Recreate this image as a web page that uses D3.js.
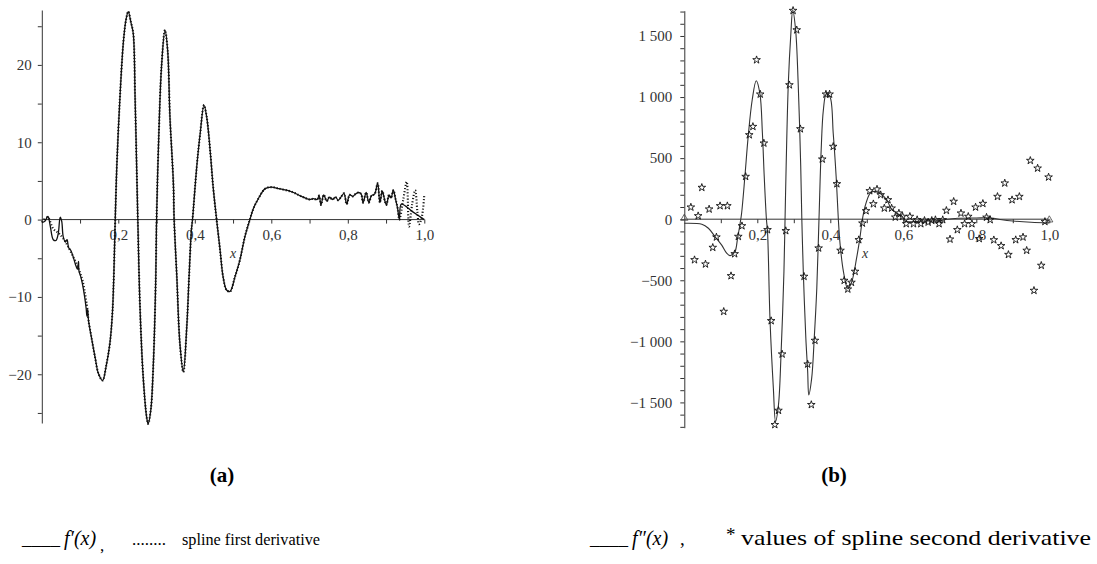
<!DOCTYPE html>
<html>
<head>
<meta charset="utf-8">
<script src="https://cdn.jsdelivr.net/npm/d3@7"></script>
<style>
html,body{margin:0;padding:0;background:#fff;}
svg{display:block;}
svg text{font-family:"Liberation Serif","Times New Roman",Times,"DejaVu Serif",serif !important;}
</style>
</head>
<body>
<svg id="chart" width="1097" height="564"></svg>
<script>
// ---------------- DATA: panel (a) ----------------
// f'(x), solid
const fpX = [0,0.008,0.016,0.022,0.03,0.037,0.043,0.048,0.052,0.056,0.062,0.066,0.07,0.076,0.082,0.088,0.093,0.096,0.097,0.102,0.107,0.112,0.116,0.118,0.12,0.122,0.13,0.14,0.148,0.159,0.168,0.178,0.185,0.192,0.196,0.204,0.213,0.22,0.226,0.233,0.239,0.244,0.248,0.251,0.257,0.265,0.274,0.278,0.285,0.292,0.298,0.3,0.306,0.313,0.322,0.329,0.335,0.344,0.346,0.353,0.361,0.37,0.379,0.385,0.391,0.394,0.405,0.414,0.424,0.431,0.44,0.448,0.457,0.466,0.474,0.483,0.492,0.505,0.518,0.531,0.544,0.553,0.566,0.584,0.6,0.62,0.653,0.679,0.7,0.71,0.72,0.725,0.73,0.737,0.745,0.752,0.76,0.768,0.775,0.782,0.79,0.797,0.805,0.813,0.82,0.828,0.835,0.84,0.848,0.855,0.862,0.87,0.878,0.884,0.89,0.897,0.901,0.908,0.913,0.919,0.925,0.93,0.935,0.94,0.97,1.0];
const fpY = [-0.4,-0.2,0.4,-0.8,-2.6,-2.7,-1.8,0.3,-0.2,-2.2,-2.9,-2.6,-3.6,-4.0,-4.8,-5.8,-6.4,-5.4,-6.6,-7.4,-8.5,-10.0,-11.5,-12.5,-11.6,-13.0,-15.3,-18.0,-19.9,-20.8,-19.0,-16.0,-11.7,0,6.8,15.5,22.8,25.8,26.9,25.5,24.1,15.5,6.8,0,-11.7,-20.3,-25.5,-26.4,-24.6,-18.2,-7.4,0,11.1,19.8,24.5,21.9,13.3,4.7,0,-7.4,-16,-19.7,-13.9,-7.4,-1.4,0,6.8,11.1,14.8,13.3,9,4.2,0,-3.9,-7.4,-9.1,-9.3,-7.4,-5.2,-2.2,0,1.4,2.7,4.0,4.2,4.0,3.6,3.0,2.6,2.7,2.6,3.1,1.9,3.2,2.4,2.9,2.6,2.9,2.5,2.9,3.4,2.0,3.2,3.0,3.3,3.5,3.3,2.2,3.5,2.2,3.1,3.3,4.7,2.2,3.7,2.4,1.9,3.2,2.8,3.8,2.6,1.5,0,2.0,1.0,0];
// spline first derivative (dotted): its own head and tail, same as f' in the middle
const splHeadX = [0,0.015,0.03,0.045,0.059,0.076,0.094,0.107,0.12];
const splHeadY = [-0.3,0.3,-1.2,-1.8,-2.65,-4.2,-6.1,-8.0,-11.9];
const splTailX = [0.93,0.935,0.945,0.954,0.96,0.968,0.976,0.982,0.986,0.993,1.0];
const splTailY = [1.5,0,2.6,4.9,-0.9,1.9,3.8,1.0,-0.6,0.2,3.2];
const yTicksA = [-25,-20,-15,-10,-5,0,5,10,15,20,25];
const yLabelsA = [-20,-10,0,10,20];
const xTicks = [0.1,0.2,0.3,0.4,0.5,0.6,0.7,0.8,0.9,1.0];
const xLabels = [0.2,0.4,0.6,0.8,1.0];

// ---------------- DATA: panel (b) ----------------
const fppX = [0,0.002,0.048,0.066,0.084,0.102,0.116,0.125,0.13,0.139,0.146,0.153,0.157,0.166,0.175,0.186,0.197,0.207,0.214,0.219,0.225,0.228,0.235,0.244,0.25,0.258,0.265,0.273,0.276,0.279,0.285,0.292,0.297,0.305,0.312,0.319,0.322,0.326,0.333,0.338,0.341,0.349,0.356,0.363,0.369,0.375,0.381,0.389,0.399,0.408,0.416,0.422,0.427,0.436,0.448,0.459,0.472,0.481,0.488,0.495,0.509,0.516,0.536,0.555,0.566,0.582,0.598,0.603,0.65,0.7,0.72,0.75,0.8,0.84,0.87,0.9,0.95,1.0];
const fppY = [-33,-33,-41,-74,-142,-210,-278,-298,-292,-265,-155,-33,49,349,676,976,1134,1031,704,349,0,-101,-838,-1383,-1656,-1520,-1110,-429,0,430,1113,1522,1713,1549,1113,430,0,-429,-974,-1247,-1438,-1301,-974,-565,0,567,894,1025,1003,704,349,0,-210,-429,-570,-510,-319,-155,0,103,213,226,213,158,90,49,21,-15,-15,-12,0,8,10,10,-5,-15,-25,-30];
const starX = [0.018,0.028,0.038,0.048,0.058,0.068,0.078,0.088,0.098,0.108,0.118,0.128,0.138,0.148,0.158,0.168,0.178,0.188,0.198,0.208,0.218,0.228,0.238,0.248,0.258,0.268,0.278,0.288,0.298,0.308,0.318,0.328,0.338,0.348,0.358,0.368,0.378,0.388,0.398,0.408,0.418,0.428,0.438,0.448,0.458,0.468,0.478,0.488,0.498,0.508,0.518,0.528,0.538,0.548,0.558,0.568,0.578,0.588,0.598,0.608,0.618,0.628,0.638,0.648,0.658,0.668,0.678,0.688,0.698,0.708,0.718,0.728,0.738,0.748,0.758,0.768,0.778,0.788,0.798,0.808,0.818,0.828,0.838,0.848,0.858,0.868,0.878,0.888,0.898,0.908,0.918,0.928,0.938,0.948,0.958,0.968,0.978,0.988,0.998];
const starY = [98,-333,27,259,-368,82,-232,-147,109,-756,109,-464,-284,-142,-55,349,690,758,1304,1023,622,-87,-832,-1683,-1566,-1105,-95,1099,1708,1549,739,-469,-1187,-1519,-993,-237,491,1023,1023,595,289,-256,-502,-573,-518,-428,-169,-33,68,232,125,245,199,90,158,90,16,49,22,-38,22,-38,-5,-38,-11,-25,-11,-5,-38,-5,71,-164,145,-87,49,-38,22,-38,98,-160,128,15,-5,-170,185,-218,295,-290,158,-169,185,-147,-256,480,-584,417,-379,-20,344];
const endMarkX = [0,1.0];
const endMarkY = [0,-14];
const yTicksB = d3.range(-1700,1701,100);
const yLabelsB = [-1500,-1000,-500,0,500,1000,1500];

// ---------------- DRAWING ----------------
const SERIF = '"Liberation Serif","Times New Roman",Times,serif';
const svg = d3.select("#chart");
const axisColor = "#333";
const labelColor = "#333";
const commaFmt = d3.formatLocale({decimal:",",thousands:"\u00a0",grouping:[3],currency:["",""],minus:"\u2212"});
const fx = commaFmt.format(".1f");
const fy = commaFmt.format(",d");

function styleAxis(g){
  g.attr("font-family",SERIF).attr("font-size",15);
  g.selectAll("path.domain").attr("stroke",axisColor).attr("stroke-width",1);
  g.selectAll(".tick line").attr("stroke",axisColor).attr("stroke-width",1);
  g.selectAll(".tick text").attr("fill",labelColor);
}

// ---- Panel (a)
const xA = d3.scaleLinear().domain([0,1]).range([41.8,424.3]);
const yA = d3.scaleLinear().domain([-26.3,27.1]).range([423,10]);
const gA = svg.append("g");

gA.append("g").attr("transform",`translate(0,${yA(0)})`)
  .call(d3.axisBottom(xA).tickValues(xTicks).tickSize(4).tickSizeOuter(0).tickPadding(6)
    .tickFormat(d => xLabels.some(v=>Math.abs(v-d)<1e-9) ? fx(d) : ""))
  .call(styleAxis).call(g=>g.select("path.domain").attr("d",`M${xA(0)},0H${xA(1)}`));
gA.append("g").attr("transform",`translate(${xA(0)},0)`)
  .call(d3.axisLeft(yA).tickValues(yTicksA).tickSize(4).tickSizeOuter(0).tickPadding(6)
    .tickFormat(d => yLabelsA.includes(d) ? fy(d) : ""))
  .call(styleAxis);
gA.append("text").attr("x",230).attr("y",258).attr("font-size",14).attr("font-style","italic").attr("fill","#333").text("x");

const lineA = d3.line().x(d=>xA(d[0])).y(d=>yA(d[1])).curve(d3.curveCatmullRom.alpha(0.5));
const fpPts = fpX.map((x,i)=>[x,fpY[i]]);
const splPts = splHeadX.map((x,i)=>[x,splHeadY[i]])
  .concat(fpPts.filter(p=>p[0]>0.12 && p[0]<0.93))
  .concat(splTailX.map((x,i)=>[x,splTailY[i]]));
gA.append("path").datum(fpPts).attr("d",lineA).attr("fill","none").attr("stroke","#111").attr("stroke-width",1.3);
gA.append("path").datum(splPts).attr("d",lineA).attr("fill","none").attr("stroke","#111").attr("stroke-width",2.1).attr("stroke-dasharray","1.1,2");

// ---- Panel (b)
const xB = d3.scaleLinear().domain([0,1]).range([684.3,1049.3]);
const yB = d3.scaleLinear().domain([-1707,1707]).range([427.7,10.7]);
const gB = svg.append("g");
gB.append("g").attr("transform",`translate(0,${yB(0)})`)
  .call(d3.axisBottom(xB).tickValues(xTicks).tickSize(4).tickSizeOuter(0).tickPadding(6)
    .tickFormat(d => xLabels.some(v=>Math.abs(v-d)<1e-9) ? fx(d) : ""))
  .call(styleAxis).call(g=>g.select("path.domain").attr("d",`M${xB(0)},0H${xB(1)}`));
gB.append("g").attr("transform",`translate(${xB(0)},0)`)
  .call(d3.axisLeft(yB).tickValues(yTicksB).tickSize(4).tickSizeOuter(0).tickPadding(8)
    .tickFormat(d => yLabelsB.includes(d) ? fy(d) : ""))
  .call(styleAxis);
gB.append("text").attr("x",862).attr("y",258).attr("font-size",14).attr("font-style","italic").attr("fill","#333").text("x");

const lineB = d3.line().x(d=>xB(d[0])).y(d=>yB(d[1])).curve(d3.curveCatmullRom.alpha(0.5));
gB.append("path").datum(fppX.map((x,i)=>[x,fppY[i]])).attr("d",lineB).attr("fill","none").attr("stroke","#333").attr("stroke-width",1.1);
const star = d3.symbol().type(d3.symbolStar).size(18);
gB.selectAll("path.star").data(starX.map((x,i)=>[x,starY[i]])).join("path").attr("class","star")
  .attr("transform",d=>`translate(${xB(d[0])},${yB(d[1])})`).attr("d",star)
  .attr("fill","none").attr("stroke","#111").attr("stroke-width",0.9);
const tri = d3.symbol().type(d3.symbolTriangle).size(22);
gB.selectAll("path.endmark").data(endMarkX.map((x,i)=>[x,endMarkY[i]])).join("path").attr("class","endmark")
  .attr("transform",d=>`translate(${xB(d[0])},${yB(d[1])-1})`).attr("d",tri)
  .attr("fill","none").attr("stroke","#444").attr("stroke-width",0.8);

// ---- Captions
svg.append("text").attr("x",222).attr("y",482).attr("text-anchor","middle").attr("font-family",SERIF).attr("font-size",21).attr("font-weight","bold").text("(a)");
svg.append("text").attr("x",834).attr("y",482).attr("text-anchor","middle").attr("font-family",SERIF).attr("font-size",21).attr("font-weight","bold").text("(b)");

// ---- Legends
const lg = svg.append("g").attr("font-family",SERIF).attr("font-size",17).attr("fill","#000");
lg.append("text").attr("x",22).attr("y",545).attr("textLength",38).attr("lengthAdjust","spacingAndGlyphs").text("____");
lg.append("text").attr("x",64).attr("y",545).attr("font-size",20).attr("font-style","italic").text("f\u2032(x)");
lg.append("text").attr("x",100).attr("y",551).text(",");
lg.append("text").attr("x",132).attr("y",545).text("........");
lg.append("text").attr("x",182).attr("y",545).attr("textLength",138).attr("lengthAdjust","spacingAndGlyphs").text("spline first derivative");

lg.append("text").attr("x",590).attr("y",545).attr("textLength",38).attr("lengthAdjust","spacingAndGlyphs").text("____");
lg.append("text").attr("x",632).attr("y",545).attr("font-size",20).attr("font-style","italic").text("f\u2033(x)");
lg.append("text").attr("x",680).attr("y",545).attr("font-size",19).text(",");
lg.append("text").attr("x",726).attr("y",541).attr("font-size",19).text("*");
lg.append("text").attr("x",741).attr("y",545).attr("font-size",21).attr("textLength",350).attr("lengthAdjust","spacingAndGlyphs").text("values of spline second derivative");
</script>
</body>
</html>
